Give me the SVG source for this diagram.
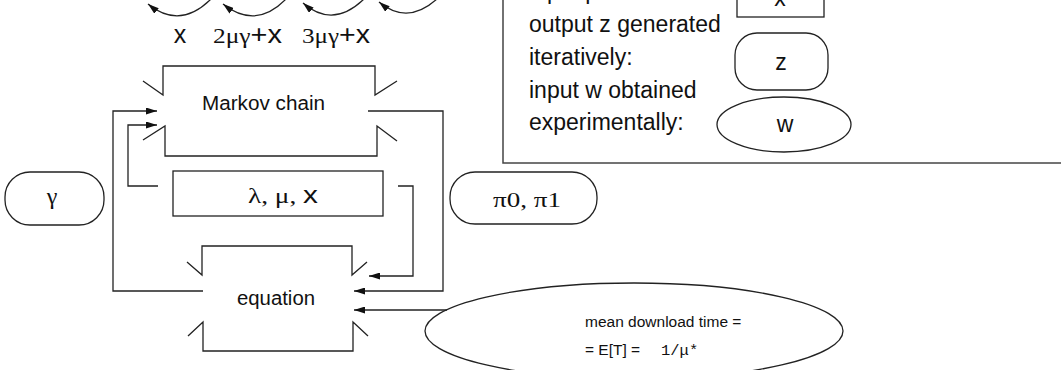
<svg xmlns="http://www.w3.org/2000/svg" width="1061" height="370" viewBox="0 0 1061 370">
<defs>
<marker id="ah" markerUnits="userSpaceOnUse" viewBox="0 0 11 7" refX="11" refY="3.5" markerWidth="11" markerHeight="7" orient="auto">
<path d="M0,0 L11,3.5 L0,7 z" fill="#111"/>
</marker>
</defs>
<style>
.ln{fill:none;stroke:#222;stroke-width:1.3}
.sh{fill:#fff;stroke:#222;stroke-width:1.3}
.cn{fill:none;stroke:#222;stroke-width:1.3;marker-end:url(#ah)}
.sans{font-family:"Liberation Sans",Arial,sans-serif;fill:#111}
.serif{font-family:"Liberation Serif","Times New Roman",serif;fill:#111}
.mono{font-family:"Liberation Mono","Courier New",monospace;fill:#111}
</style>
<rect width="1061" height="370" fill="#fff"/>

<g id="legend">
<rect x="503" y="-20" width="620" height="183" fill="none" stroke="#444" stroke-width="1.5"/>
<text class="sans" font-size="23" x="529" y="-1">input parameters:</text>
<text class="sans" font-size="23" x="529" y="32">output z generated</text>
<text class="sans" font-size="23" x="529" y="65">iteratively:</text>
<text class="sans" font-size="23" x="529" y="98">input w obtained</text>
<text class="sans" font-size="23" x="529" y="130">experimentally:</text>
<rect class="sh" x="737" y="-20" width="87" height="37"/>
<text class="sans" font-size="23" x="780" y="6" text-anchor="middle">x</text>
<rect class="sh" x="735" y="33" width="93" height="57" rx="22" ry="22"/>
<text class="sans" font-size="23" x="781" y="70" text-anchor="middle">z</text>
<ellipse class="sh" cx="784" cy="124.5" rx="67" ry="27.5"/>
<text class="sans" font-size="23" x="785" y="132" text-anchor="middle">w</text>
</g>

<g id="chain-arcs">
<path class="cn" d="M211,-1 Q180,30 148,4"/>
<path class="cn" d="M286,-1 Q256,30 223,4"/>
<path class="cn" d="M364,-1 Q333,29 303,3"/>
<path class="cn" d="M438,-2 Q408,26 379,2"/>
<text class="sans" font-size="25" x="180" y="43" text-anchor="middle">x</text>
<text x="213" y="43" textLength="69" lengthAdjust="spacingAndGlyphs"><tspan class="serif" font-size="22">2μγ</tspan><tspan class="sans" font-size="25">+x</tspan></text>
<text x="302" y="43" textLength="68" lengthAdjust="spacingAndGlyphs"><tspan class="serif" font-size="22">3μγ</tspan><tspan class="sans" font-size="25">+x</tspan></text>
</g>

<g id="markov">
<path class="ln" d="M143,81 L163,95 L163,66 L375,66 L375,95 L397,81"/>
<path class="ln" d="M143,140 L165,126 L165,156 L377,156 L377,126 L397,141"/>
<text class="sans" font-size="20" x="202" y="110" textLength="123" lengthAdjust="spacingAndGlyphs">Markov chain</text>
</g>

<g id="params">
<rect class="sh" x="173" y="171" width="210" height="45"/>
<text x="248" y="203" textLength="70" lengthAdjust="spacingAndGlyphs"><tspan class="serif" font-size="22">λ, μ, </tspan><tspan class="sans" font-size="24">x</tspan></text>
</g>

<g id="gamma">
<rect class="sh" x="5" y="172" width="99" height="53" rx="25" ry="25"/>
<text class="serif" font-size="24" x="52" y="204" text-anchor="middle">γ</text>
</g>

<g id="pi">
<rect class="sh" x="450" y="172" width="147" height="52" rx="25" ry="25"/>
<text class="serif" font-size="22" x="493" y="207" textLength="68" lengthAdjust="spacingAndGlyphs">π0, π1</text>
</g>

<g id="equation">
<path class="ln" d="M187,262 L202,275 L202,246 L352,246 L352,275 L367,262"/>
<path class="ln" d="M188,336 L203,322 L203,351 L353,351 L353,322 L368,336"/>
<text class="sans" font-size="20" x="237" y="305" textLength="78" lengthAdjust="spacingAndGlyphs">equation</text>
</g>

<g id="download">
<ellipse class="sh" cx="634" cy="331" rx="209" ry="48"/>
<text class="sans" font-size="15.5" x="585" y="327">mean download time =</text>
<text x="585" y="355"><tspan class="sans" font-size="15.5">= E[T] = </tspan><tspan class="mono" font-size="15.5" x="661">1/μ*</tspan></text>
</g>

<g id="connectors">
<path class="cn" d="M203,291 H113 V111 H157"/>
<path class="cn" d="M158,186 H128 V125 H157"/>
<path class="cn" d="M368,111 H443 V291 H354"/>
<path class="cn" d="M398,186 H413 V276 H369"/>
<path class="cn" d="M447,310 H354"/>
</g>
</svg>
